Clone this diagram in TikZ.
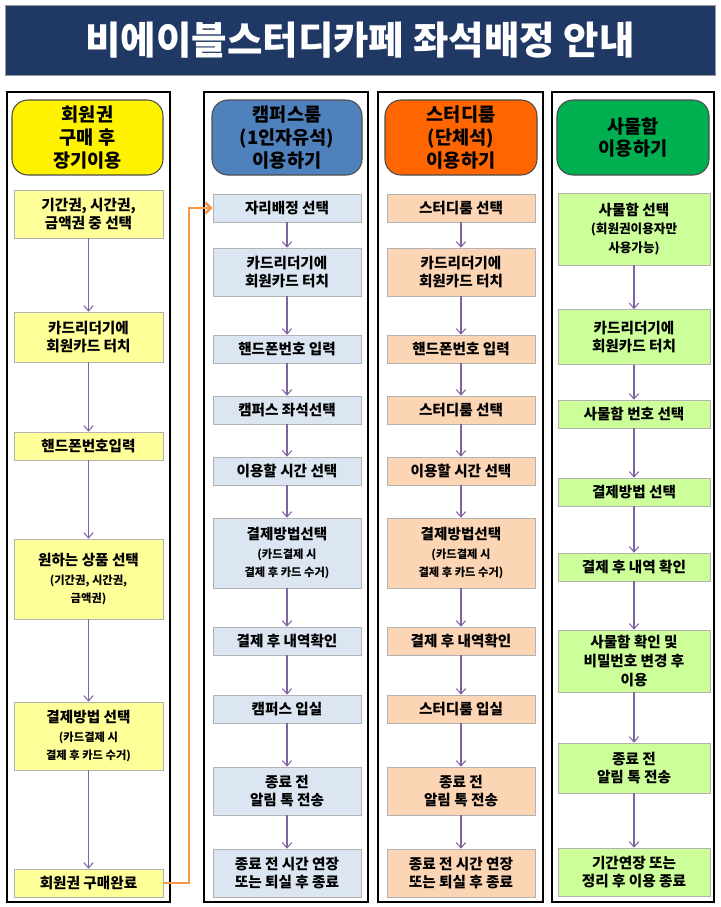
\documentclass[tikz,border=0pt]{standalone}
\usepackage{fontspec}
\setmainfont{Noto Sans CJK KR}
\usetikzlibrary{arrows.meta}
\definecolor{titleblue}{RGB}{31,56,100}
\definecolor{headblue}{RGB}{79,129,189}
\definecolor{headorange}{RGB}{255,102,0}
\definecolor{headgreen}{RGB}{0,176,80}
\definecolor{stepyellow}{RGB}{255,255,153}
\definecolor{stepblue}{RGB}{220,230,242}
\definecolor{steporange}{RGB}{252,213,181}
\definecolor{stepgreen}{RGB}{204,255,153}
\definecolor{flowpurple}{RGB}{128,100,162}
\definecolor{linkorange}{RGB}{247,150,70}

\newcommand{\notesize}{\fontsize{8.5}{11}\selectfont}

\tikzset{
  lane/.style={draw=black, line width=2pt},
  head/.style={draw=black!70, thick, rounded corners=12pt, minimum height=75*0.02646cm,
    align=center, font=\bfseries\fontsize{14}{17}\selectfont},
  stepbox/.style={draw=black!30, align=center, font=\bfseries\fontsize{11}{14}\selectfont},
  flow/.style={-{Straight Barb[length=4pt,width=7pt]}, draw=flowpurple, thick},
}

\begin{document}
\begin{tikzpicture}[x=0.02646cm, y=-0.02646cm]
  \useasboundingbox (0,0) rectangle (720,907);
  % title
  \node[fill=titleblue, draw=black!40, minimum width=710*0.02646cm, minimum height=70*0.02646cm,
    text=white, font=\bfseries\fontsize{29}{34}\selectfont] (title) at (360,40) {비에이블스터디카페 좌석배정 안내};
  % lanes
  \draw[lane] (7,92) rectangle (170,902);
  \draw[lane] (204,92) rectangle (368,902);
  \draw[lane] (378,92) rectangle (543,902);
  \draw[lane] (552,92) rectangle (714,902);
  % headers
  \node[head, fill=yellow, minimum width=151*0.02646cm] (h1) at (87.5,137.5) {회원권\\구매 후\\장기이용};
  \node[head, fill=headblue, minimum width=150*0.02646cm] (h2) at (287,137.5) {캠퍼스룸\\(1인자유석)\\이용하기};
  \node[head, fill=headorange, minimum width=152*0.02646cm] (h3) at (461,137.5) {스터디룸\\(단체석)\\이용하기};
  \node[head, fill=headgreen, minimum width=152*0.02646cm] (h4) at (633,137.5) {사물함\\이용하기};
  % lane 1
  \foreach \n/\y/\h/\t in {
      1/214/48/{기간권, 시간권,\\금액권 중 선택},
      2/337/50/{카드리더기에\\회원카드 터치},
      3/446/28/{핸드폰번호입력},
      4/579/80/{원하는 상품 선택\\{\notesize(기간권, 시간권,}\\{\notesize 금액권)}},
      5/736/68/{결제방법 선택\\{\notesize(카드결제 시}\\{\notesize 결제 후 카드 수거)}},
      6/883/28/{회원권 구매완료}}
    \node[stepbox, fill=stepyellow, minimum width=149*0.02646cm, minimum height=\h*0.02646cm] (a\n) at (88.5,\y) {\t};
  % lanes 2 and 3
  \foreach \c/\x/\col/\first/\seat/\enter in {
      b/287/stepblue/자리배정 선택/캠퍼스 좌석선택/캠퍼스 입실,
      c/461/steporange/스터디룸 선택/스터디룸 선택/스터디룸 입실}{
    \foreach \n/\y/\h/\t in {
        1/208/28/{\first},
        2/272/48/{카드리더기에\\회원카드 터치},
        3/349/28/{핸드폰번호 입력},
        4/410/28/{\seat},
        5/471/28/{이용할 시간 선택},
        6/553/70/{결제방법선택\\{\notesize(카드결제 시}\\{\notesize 결제 후 카드 수거)}},
        7/641/28/{결제 후 내역확인},
        8/709/28/{\enter},
        9/791/48/{종료 전\\알림 톡 전송},
        10/873/48/{종료 전 시간 연장\\또는 퇴실 후 종료}}
      \node[stepbox, fill=\col, minimum width=148*0.02646cm, minimum height=\h*0.02646cm] (\c\n) at (\x,\y) {\t};
  }
  % lane 4
  \foreach \n/\y/\h/\t in {
      1/229/72/{사물함 선택\\{\fontsize{9.5}{12}\selectfont(회원권이용자만}\\{\fontsize{9.5}{12}\selectfont 사용가능)}},
      2/337/55/{카드리더기에\\회원카드 터치},
      3/414/28/{사물함 번호 선택},
      4/492/28/{결제방법 선택},
      5/567/28/{결제 후 내역 확인},
      6/661/62/{사물함 확인 및\\비밀번호 변경 후\\이용},
      7/768/50/{종료 전\\알림 톡 전송},
      8/872/48/{기간연장 또는\\정리 후 이용 종료}}
    \node[stepbox, fill=stepgreen, minimum width=152*0.02646cm, minimum height=\h*0.02646cm] (d\n) at (634,\y) {\t};
  % flows
  \foreach \i [evaluate=\i as \j using int(\i+1)] in {1,...,5}
    \draw[flow] (a\i) -- (a\j);
  \foreach \i [evaluate=\i as \j using int(\i+1)] in {1,...,9}{
    \draw[flow] (b\i) -- (b\j);
    \draw[flow] (c\i) -- (c\j);
  }
  \foreach \i [evaluate=\i as \j using int(\i+1)] in {1,...,7}
    \draw[flow] (d\i) -- (d\j);
  % link from membership to campus
  \draw[draw=linkorange, line width=2pt, -{Straight Barb[length=4pt,width=8pt]}]
    (a6.east) -- (189,883) -- (189,208) -- (b1.west);
\end{tikzpicture}
\end{document}
